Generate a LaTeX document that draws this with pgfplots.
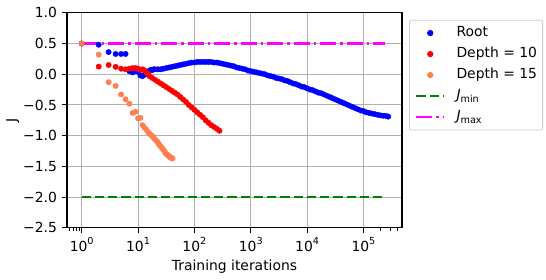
\documentclass[border=0pt]{standalone}
\usepackage{fontspec}
\setmainfont{DejaVu Sans}
\usepackage{pgfplots}
\pgfplotsset{compat=1.18}
\definecolor{coral}{RGB}{255,127,80}
\definecolor{gridgray}{RGB}{176,176,176}
\definecolor{leggray}{RGB}{204,204,204}
\definecolor{mplgreen}{RGB}{0,128,0}
\definecolor{mplmagenta}{RGB}{255,0,255}
\definecolor{mplblue}{RGB}{0,0,255}
\definecolor{mplred}{RGB}{255,0,0}
\newcommand{\tp}[1]{10\raisebox{7.3pt}{\fontsize{9.7}{10}\selectfont #1}}
\newcommand{\jsub}[1]{\rule[-5pt]{0pt}{12.5pt}\textit{J}\raisebox{-2.5pt}{\fontsize{9.7}{10}\selectfont #1}}
\pgfplotsset{
  markleg/.style={legend image code/.code={\draw[##1] plot coordinates {(14pt,0pt)};}},
  lineleg/.style={legend image code/.code={\draw[##1] (0pt,0pt) -- (28pt,0pt);}},
}
\begin{document}
\begin{tikzpicture}
\begin{axis}[
  scale only axis, width=335pt, height=215pt,
  xmode=log, log basis x=10,
  xmin=0.548, xmax=4.83e5, ymin=-2.5, ymax=1.0,
  xtick={1,10,100,1000,10000,100000},
  xticklabels={\tp{0},\tp{1},\tp{2},\tp{3},\tp{4},\tp{5}},
  extra x ticks={0.6,0.7,0.8,0.9,200000,300000,400000},
  extra x tick labels={},
  extra x tick style={grid=none, major tick length=2.8pt,
    every major tick/.append style={line width=0.83pt}},
  ytick={-2.5,-2,-1.5,-1,-0.5,0,0.5,1},
  yticklabels={−2.5,−2.0,−1.5,−1.0,−0.5,0.0,0.5,1.0},
  tick align=outside, tick pos=left,
  major tick length=4.9pt, minor tick length=2.8pt,
  every tick/.style={black, line width=1.1pt},
  every minor tick/.append style={line width=0.83pt},
  grid=major, major grid style={gridgray, line width=1.1pt},
  axis line style={line width=1.1pt},
  font=\fontsize{13.9}{16}\selectfont,
  tick label style={font=\fontsize{13.9}{16}\selectfont},
  xticklabel style={anchor=base, yshift=-18.8pt},
  yticklabel style={anchor=east, inner sep=0pt, xshift=-5pt},
  xlabel={Training iterations}, ylabel={J},
  every axis x label/.style={at={(axis description cs:0.5,-0.1986)}, anchor=base},
  every axis y label/.style={at={(axis description cs:-0.1513,0.5)}, rotate=90, anchor=base},
  legend cell align=left,
  legend style={at={(axis description cs:1.0209,0.9674)}, anchor=north west,
    draw=leggray, rounded corners=2pt, fill=white, line width=0.8pt,
    font=\fontsize{13.9}{16}\selectfont,
    inner xsep=5.6pt, inner ysep=5.6pt, row sep=6.5pt,
    nodes={inner sep=0pt, text height=11pt, text depth=3.5pt},
    /tikz/every odd column/.append style={column sep=11pt}},
]
% reference lines drawn first (beneath markers)
\addplot[mplgreen, line width=2.5pt, dash pattern=on 9.25pt off 4pt, forget plot]
  coordinates {(1,-2) (240000,-2)};
\addplot[mplmagenta, line width=2.5pt, dash pattern=on 16pt off 4pt on 2.5pt off 4pt, forget plot]
  coordinates {(1,0.5) (240000,0.5)};

% Root
\addplot[only marks, mark=*, mark size=2.7pt, color=mplblue, markleg]
  coordinates {
  (1,0.5) (2,0.48) (3,0.36) (4,0.33) (5,0.33) (6,0.33) (7,0.05) (8,0.03) (9,0.05) (10,0.04)
  (11,-0.02) (12,-0.03) (13,-0.01) (14,0.02) (15,0.04) (16,0.06) (17,0.07) (18,0.07) (19,0.08)
  (19.95,0.08) (22.39,0.08) (25.12,0.08) (28.18,0.09) (31.62,0.10) (35.48,0.11) (39.81,0.12)
  (44.67,0.13) (50.12,0.14) (56.23,0.15) (63.10,0.16) (70.79,0.17) (79.43,0.18) (89.13,0.19)
  (100,0.19) (112.2,0.20) (125.9,0.20) (141.3,0.20) (158.5,0.20) (177.8,0.20) (199.5,0.20)
  (223.9,0.19) (251.2,0.19) (281.8,0.18) (316.2,0.17) (354.8,0.16) (398.1,0.15) (446.7,0.14)
  (501.2,0.13) (562.3,0.11) (631.0,0.10) (707.9,0.09) (794.3,0.08) (891.3,0.06)
  (1000,0.05) (1122,0.04) (1259,0.03) (1413,0.02) (1585,0.01) (1778,0.00) (1995,-0.02)
  (2239,-0.03) (2512,-0.04) (2818,-0.06) (3162,-0.07) (3548,-0.08) (3981,-0.10) (4467,-0.11)
  (5012,-0.13) (5623,-0.15) (6310,-0.16) (7079,-0.18) (7943,-0.20) (8913,-0.21)
  (10000,-0.23) (11220,-0.25) (12590,-0.26) (14130,-0.28) (15850,-0.30) (17780,-0.31)
  (19950,-0.33) (22390,-0.35) (25120,-0.37) (28180,-0.39) (31620,-0.41) (35480,-0.43)
  (39810,-0.45) (44670,-0.47) (50120,-0.49) (56230,-0.51) (63100,-0.53) (70790,-0.55)
  (79430,-0.57) (89130,-0.59) (100000,-0.60) (112200,-0.62) (125900,-0.63) (141300,-0.64)
  (158500,-0.65) (177800,-0.66) (199500,-0.67) (223900,-0.675) (251200,-0.68) (275400,-0.69)
  };
\addlegendentry{Root}

% Depth = 10
\addplot[only marks, mark=*, mark size=2.7pt, color=mplred, markleg]
  coordinates {
  (1,0.5) (2,0.125) (3,0.15) (4,0.12) (5,0.09) (6,0.08) (7,0.09) (8,0.10) (9,0.10) (10,0.09)
  (11,0.07) (12,0.08) (13,0.06) (14,0.03) (15,0.01)
  (15.85,-0.03) (17.78,-0.06) (19.95,-0.09) (22.39,-0.12) (25.12,-0.15) (28.18,-0.18)
  (31.62,-0.21) (35.48,-0.24) (39.81,-0.27) (44.67,-0.30) (50.12,-0.33) (56.23,-0.37)
  (63.10,-0.41) (70.79,-0.45) (79.43,-0.50) (89.13,-0.54) (100,-0.58) (112.2,-0.62)
  (125.9,-0.66) (141.3,-0.70) (158.5,-0.75) (177.8,-0.79) (199.5,-0.83) (223.9,-0.86)
  (251.2,-0.89) (278.6,-0.92)
  };
\addlegendentry{Depth = 10}

% Depth = 15
\addplot[only marks, mark=*, mark size=2.7pt, color=coral, markleg]
  coordinates {
  (1,0.5) (2,0.32) (3,-0.13) (4,-0.19) (5,-0.33) (6,-0.41) (7,-0.48) (8,-0.63) (9,-0.61)
  (10,-0.72) (11,-0.71) (12,-0.83) (13,-0.87) (14,-0.90) (15,-0.94) (16,-0.97) (17,-0.99)
  (18,-1.01) (19,-1.04) (20,-1.06) (21,-1.08) (22,-1.10) (23,-1.13) (24,-1.15) (25,-1.17)
  (26,-1.19) (27,-1.21) (28,-1.23) (29,-1.25) (30,-1.27) (31,-1.29) (32,-1.30) (33,-1.31)
  (34,-1.32) (35,-1.33) (36,-1.34) (37,-1.35) (38,-1.36) (39,-1.36) (40,-1.37) (41,-1.37)
  };
\addlegendentry{Depth = 15}

\addlegendimage{mplgreen, line width=2.5pt, dash pattern=on 9.25pt off 4pt, lineleg}
\addlegendentry{\jsub{min}}
\addlegendimage{mplmagenta, line width=2.5pt, dash pattern=on 16pt off 4pt on 2.5pt off 4pt, lineleg}
\addlegendentry{\jsub{max}}
\end{axis}
\pgfresetboundingbox
\path (current axis.south west) ++(-67pt,-52.2pt) rectangle ++(546pt,280pt);
\end{tikzpicture}
\end{document}
